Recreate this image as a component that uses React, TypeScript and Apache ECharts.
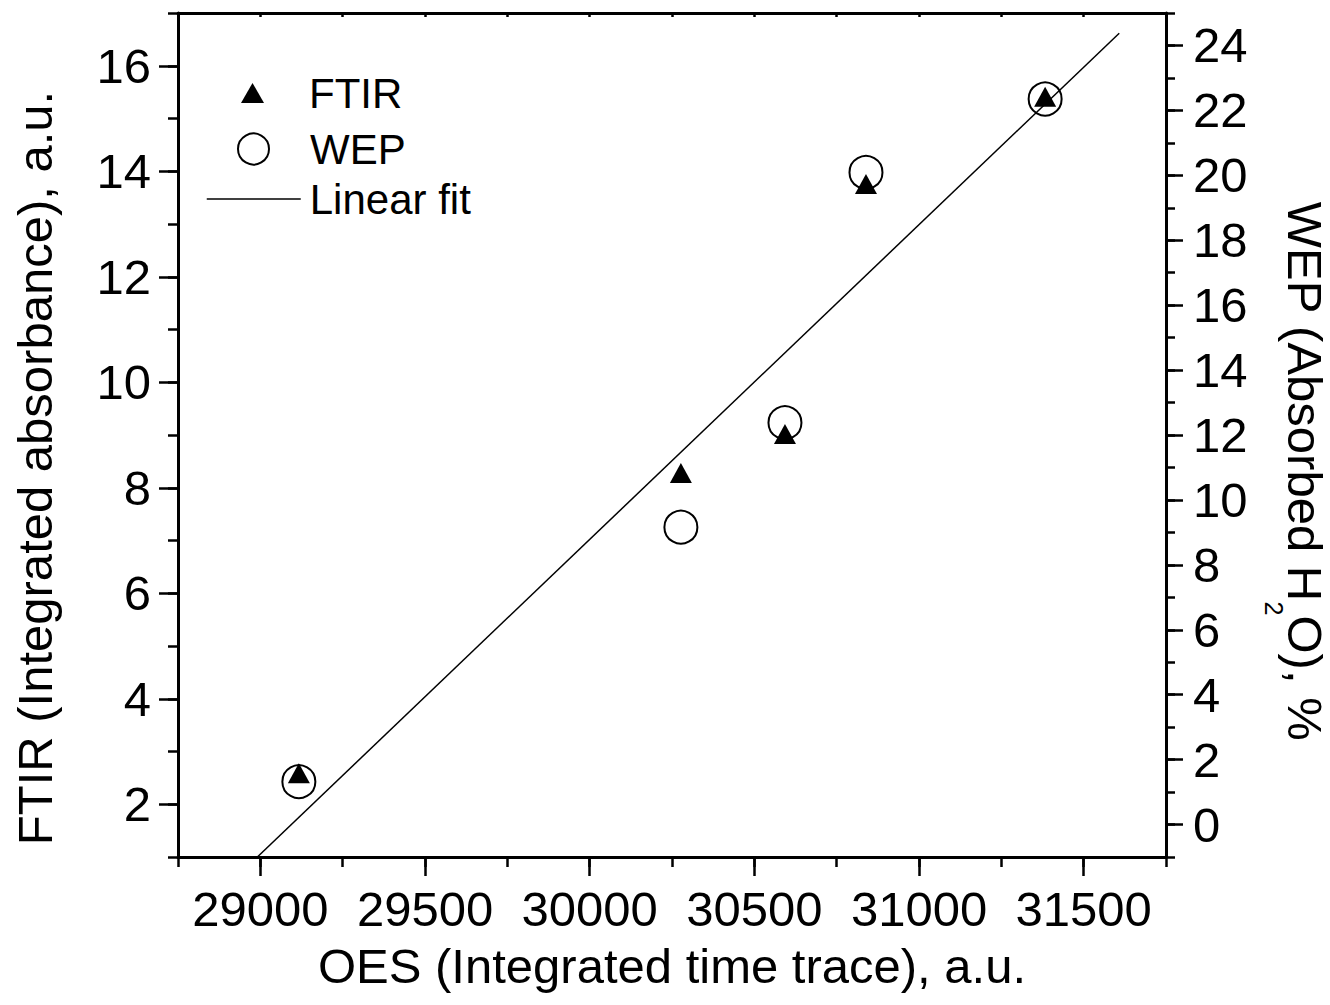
import React, { useEffect, useRef } from "react";
import * as echarts from "echarts";

// OES integrated time trace (x) for the five samples
const oesValues = [29117, 30277, 30593, 30839, 31383];
// FTIR integrated absorbance (left axis)
const ftirValues = [2.59, 8.28, 9.02, 13.76, 15.41];
// WEP absorbed water, % (right axis)
const wepValues = [1.32, 9.16, 12.38, 20.09, 22.35];
// Linear fit end points [OES, FTIR]
const fitStart = [28991, 1];
const fitEnd = [31608, 16.615];

const xMajorTicks = [29000, 29500, 30000, 30500, 31000, 31500];
const leftMajorTicks = [2, 4, 6, 8, 10, 12, 14, 16];
const rightMajorTicks = [0, 2, 4, 6, 8, 10, 12, 14, 16, 18, 20, 22, 24];

const FONT = "'Liberation Sans', Arial, Helvetica, sans-serif";
const AXIS_W = 3;
const TICK_W = 2.5;

export default function App() {
  const ref = useRef<HTMLDivElement>(null);

  useEffect(() => {
    if (!ref.current) return;
    const chart = echarts.init(ref.current, undefined, { renderer: "svg" });

    const labelStyle = { color: "#000", fontFamily: FONT, fontSize: 49 };
    const legendText = (padLeft: number) => ({
      fontFamily: FONT, fontSize: 42, color: "#000", padding: [0, 0, 0, padLeft],
    });

    const option: any = {
      animation: false,
      backgroundColor: "#fff",
      grid: { left: 178, right: 164, top: 13, bottom: 148, outerBoundsMode: "none" },
      legend: [
        {
          data: ["FTIR"], left: 241, top: 72, orient: "vertical", padding: 0,
          itemWidth: 23, itemHeight: 20, selectedMode: false,
          itemStyle: { color: "#000", borderWidth: 0 },
          textStyle: legendText(40),
        },
        {
          data: ["WEP"], left: 237, top: 128, orient: "vertical", padding: 0,
          itemWidth: 31, itemHeight: 31, selectedMode: false,
          itemStyle: { color: "rgba(0,0,0,0)", borderColor: "#000", borderWidth: 2 },
          textStyle: legendText(36),
        },
        {
          data: ["Linear fit"], left: 206, top: 178, orient: "vertical", padding: 0,
          itemWidth: 94, itemHeight: 20, selectedMode: false,
          itemStyle: { color: "rgba(0,0,0,0)", borderWidth: 0 },
          lineStyle: { color: "#000", width: 1.5 },
          textStyle: legendText(4),
        },
      ],
      xAxis: [
        {
          type: "value", position: "bottom", min: 28750, max: 31750, interval: 250,
          axisLine: { show: true, onZero: false, lineStyle: { color: "#000", width: AXIS_W } },
          axisTick: { show: true, inside: false, length: 10, lineStyle: { color: "#000", width: TICK_W } },
          axisLabel: {
            ...labelStyle, margin: 27,
            formatter: (v: number) => (v % 500 === 0 ? String(v) : ""),
          },
          splitLine: { show: false },
        },
        {
          type: "value", position: "bottom", min: 28750, max: 31750,
          axisLine: { show: false, onZero: false },
          axisTick: { show: true, inside: false, length: 19, customValues: xMajorTicks, lineStyle: { color: "#000", width: TICK_W } },
          axisLabel: { show: false },
          splitLine: { show: false },
        },
        {
          type: "value", position: "top", min: 28750, max: 31750, interval: 250,
          axisLine: { show: true, onZero: false, lineStyle: { color: "#000", width: AXIS_W } },
          axisTick: { show: true, inside: true, length: 4, lineStyle: { color: "#000", width: TICK_W } },
          axisLabel: { show: false },
          splitLine: { show: false },
        },
      ],
      yAxis: [
        {
          type: "value", position: "left", min: 1, max: 17, interval: 1,
          axisLine: { show: true, onZero: false, lineStyle: { color: "#000", width: AXIS_W } },
          axisTick: { show: true, inside: false, length: 10, lineStyle: { color: "#000", width: TICK_W } },
          axisLabel: {
            ...labelStyle, margin: 27, padding: [0, 0, 8, 0],
            formatter: (v: number) => (v % 2 === 0 ? String(v) : ""),
          },
          splitLine: { show: false },
        },
        {
          type: "value", position: "right", min: -1, max: 25, interval: 1,
          axisLine: { show: true, onZero: false, lineStyle: { color: "#000", width: AXIS_W } },
          axisTick: { show: true, inside: false, length: 9, lineStyle: { color: "#000", width: TICK_W } },
          axisLabel: {
            ...labelStyle, margin: 27, padding: [0, 0, 6, 0],
            formatter: (v: number) => (v % 2 === 0 ? String(v) : ""),
          },
          splitLine: { show: false },
        },
        {
          type: "value", position: "left", min: 1, max: 17,
          axisLine: { show: false, onZero: false },
          axisTick: { show: true, inside: false, length: 19, customValues: leftMajorTicks, lineStyle: { color: "#000", width: TICK_W } },
          axisLabel: { show: false },
          splitLine: { show: false },
        },
        {
          type: "value", position: "right", min: -1, max: 25,
          axisLine: { show: false, onZero: false },
          axisTick: { show: true, inside: false, length: 17, customValues: rightMajorTicks, lineStyle: { color: "#000", width: TICK_W } },
          axisLabel: { show: false },
          splitLine: { show: false },
        },
      ],
      series: [
        {
          name: "Linear fit", type: "line", xAxisIndex: 0, yAxisIndex: 0,
          data: [fitStart, fitEnd], symbol: "none", z: 1,
          lineStyle: { color: "#000", width: 1.5 },
          itemStyle: { color: "rgba(0,0,0,0)" },
        },
        {
          name: "WEP", type: "scatter", xAxisIndex: 0, yAxisIndex: 1,
          data: oesValues.map((x, i) => [x, wepValues[i]]),
          symbol: "circle", symbolSize: 33, z: 2,
          itemStyle: { color: "rgba(0,0,0,0)", borderColor: "#000", borderWidth: 2, opacity: 1 },
        },
        {
          name: "FTIR", type: "scatter", xAxisIndex: 0, yAxisIndex: 0,
          data: oesValues.map((x, i) => [x, ftirValues[i]]),
          symbol: "triangle", symbolSize: [22, 20], z: 3,
          itemStyle: { color: "#000", opacity: 1 },
        },
      ],
      graphic: [
        {
          type: "text", x: 672, y: 966,
          style: { text: "OES (Integrated time trace), a.u.", fontFamily: FONT, fontSize: 49, fill: "#000", align: "center", verticalAlign: "middle" },
        },
        {
          type: "text", x: 35, y: 468, rotation: Math.PI / 2,
          style: { text: "FTIR (Integrated absorbance), a.u.", fontFamily: FONT, fontSize: 49, fill: "#000", align: "center", verticalAlign: "middle" },
        },
        {
          type: "text", x: 1295, y: 471, rotation: -Math.PI / 2,
          style: {
            text: "{m|WEP (Absorbed H}{s|2}{m|O), %}",
            fill: "#000", align: "center", verticalAlign: "middle",
            rich: {
              m: { fontFamily: FONT, fontSize: 49, lineHeight: 49, verticalAlign: "top", fill: "#000" },
              s: { fontFamily: FONT, fontSize: 25, padding: [43, 0, 0, 0], verticalAlign: "bottom", fill: "#000" },
            },
          },
        },
      ],
    };

    chart.setOption(option);
    return () => chart.dispose();
  }, []);

  return (
    <div
      ref={ref}
      style={{ position: "fixed", left: 0, top: 0, width: 1330, height: 1005, background: "#fff" }}
    />
  );
}
